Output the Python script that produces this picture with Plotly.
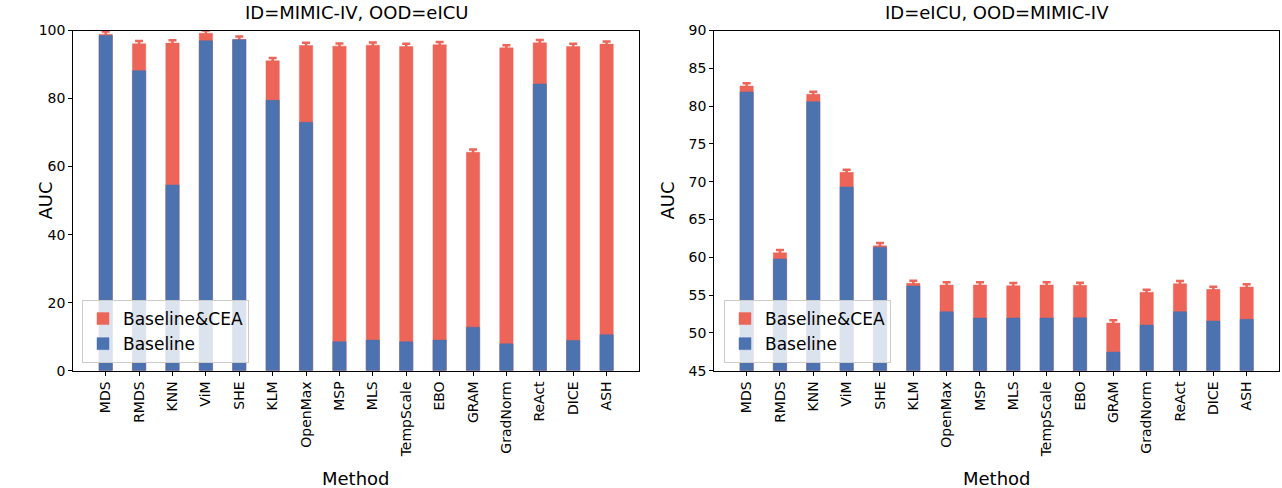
import plotly.graph_objects as go
from plotly.subplots import make_subplots

methods = ["MDS", "RMDS", "KNN", "ViM", "SHE", "KLM", "OpenMax", "MSP", "MLS",
           "TempScale", "EBO", "GRAM", "GradNorm", "ReAct", "DICE", "ASH"]

# ID=MIMIC-IV, OOD=eICU
left_base = [98.5, 88.2, 54.6, 97.0, 97.3, 79.5, 73.0, 8.5, 9.0, 8.5, 9.0, 12.8, 7.9, 84.3, 8.9, 10.6]
left_cea = [98.9, 96.1, 96.3, 99.2, 97.4, 91.1, 95.6, 95.4, 95.7, 95.3, 95.8, 64.2, 94.9, 96.4, 95.3, 96.0]
left_err = [0.8] * 16

# ID=eICU, OOD=MIMIC-IV
right_base = [81.87, 59.78, 80.58, 69.3, 61.32, 56.2, 52.8, 51.97, 51.97, 51.97, 52.0, 47.47, 51.04, 52.81, 51.57, 51.79]
right_cea = [82.66, 60.6, 81.56, 71.24, 61.53, 56.56, 56.34, 56.34, 56.25, 56.34, 56.3, 51.31, 55.37, 56.51, 55.76, 56.07]
right_err = [0.35] * 16

titles = ["ID=MIMIC-IV, OOD=eICU", "ID=eICU, OOD=MIMIC-IV"]
left_ticks = [0, 20, 40, 60, 80, 100]
right_ticks = [45, 50, 55, 60, 65, 70, 75, 80, 85, 90]

RED = "#EC6558"
BLUE = "#4C72B0"
FONT = "DejaVu Sans"

W, H = 1282, 488


def px(p):
    return p / W


def py(p):
    return 1 - p / H


fig = make_subplots(rows=1, cols=2)

xs = list(range(len(methods)))

for col, base, cea, err, leg in [(1, left_base, left_cea, left_err, "legend"),
                                 (2, right_base, right_cea, right_err, "legend2")]:
    fig.add_trace(go.Bar(
        x=xs, y=cea, name="Baseline&CEA", width=0.4,
        marker=dict(color=RED, line=dict(color="rgba(236,101,88,0.45)", width=1)),
        error_y=dict(type="data", array=err, visible=True, color=RED, thickness=2.5, width=4),
        legend=leg, showlegend=True,
    ), row=1, col=col)
    fig.add_trace(go.Bar(
        x=xs, y=base, name="Baseline", width=0.4,
        marker=dict(color=BLUE, line=dict(color="rgba(76,114,176,0.45)", width=1)),
        legend=leg, showlegend=True,
    ), row=1, col=col)

top, bot = 30.5, 370.7
ydom = [py(bot), py(top)]
xl = [73.3, 639.0]
xr = [714.3, 1279.0]
fig.update_layout(
    width=W, height=H, barmode="overlay",
    margin=dict(l=0, r=0, t=0, b=0, autoexpand=False),
    plot_bgcolor="white", paper_bgcolor="white",
    font=dict(family=FONT, size=14, color="black"),
    xaxis=dict(domain=[px(xl[0]), px(xl[1])]),
    xaxis2=dict(domain=[px(xr[0]), px(xr[1])]),
    yaxis=dict(domain=ydom, range=[0, 100], tickvals=left_ticks),
    yaxis2=dict(domain=ydom, range=[45, 90], tickvals=right_ticks),
    legend=dict(x=px(82), y=py(363), xanchor="left", yanchor="bottom",
                bgcolor="rgba(255,255,255,0.8)", bordercolor="#CCCCCC", borderwidth=1,
                font=dict(size=17), traceorder="normal"),
    legend2=dict(x=px(724), y=py(363), xanchor="left", yanchor="bottom",
                 bgcolor="rgba(255,255,255,0.8)", bordercolor="#CCCCCC", borderwidth=1,
                 font=dict(size=17), traceorder="normal"),
)

for ax in ["xaxis", "xaxis2"]:
    fig.layout[ax].update(
        range=[-0.97, 15.97], tickvals=xs, ticktext=methods, tickangle=-90,
        showline=True, mirror=True, linecolor="black", linewidth=1.2,
        ticks="outside", ticklen=4, tickcolor="black", showgrid=False, zeroline=False,
        tickfont=dict(size=14), automargin=False,
    )
for ax in ["yaxis", "yaxis2"]:
    fig.layout[ax].update(
        showline=True, mirror=True, linecolor="black", linewidth=1.2,
        ticks="outside", ticklen=4, tickcolor="black", showgrid=False, zeroline=False,
        tickfont=dict(size=14), automargin=False,
    )

annots = []
for (x0, x1), t in zip([xl, xr], titles):
    cx = px((x0 + x1) / 2)
    annots.append(dict(text=t, x=cx, y=py(12), xref="paper", yref="paper",
                       showarrow=False, font=dict(size=18), xanchor="center", yanchor="middle"))
    annots.append(dict(text="Method", x=cx, y=py(478), xref="paper", yref="paper",
                       showarrow=False, font=dict(size=18), xanchor="center", yanchor="middle"))
for xpix in [46, 668]:
    annots.append(dict(text="AUC", x=px(xpix), y=py((top + bot) / 2), xref="paper", yref="paper",
                       showarrow=False, font=dict(size=18), textangle=-90,
                       xanchor="center", yanchor="middle"))
fig.update_layout(annotations=annots)

# remove the default 8px page margin so the figure fills the window exactly
fig.write_html("out.html", config={"displayModeBar": False},
               post_script="document.body.style.margin='0';document.body.style.overflow='hidden';")
